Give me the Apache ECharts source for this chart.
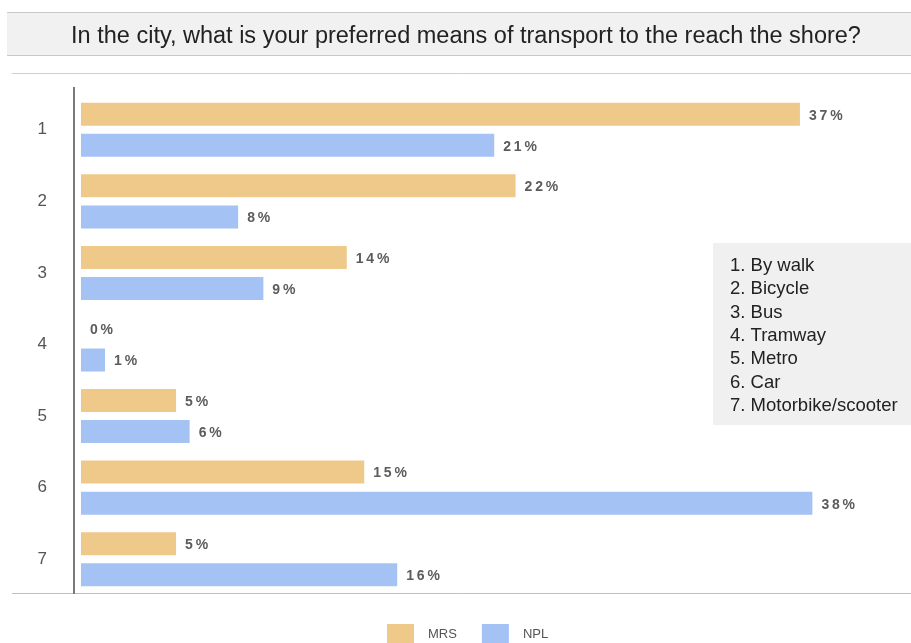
<!DOCTYPE html>
<html>
<head>
<meta charset="utf-8">
<script src="https://cdn.jsdelivr.net/npm/echarts@6/dist/echarts.min.js"></script>
<style>
html,body{margin:0;padding:0;background:#fff;}
#chart{width:911px;height:643px;}
</style>
</head>
<body>
<div id="chart"></div>
<script>
const titleText = 'In the city, what is your preferred means of transport to the reach the shore?';
const categories = ['1', '2', '3', '4', '5', '6', '7'];
const seriesNames = ['MRS', 'NPL'];
const mrsValues = [37.06, 22.4, 13.7, 0, 4.9, 14.6, 4.9];
const nplValues = [21.3, 8.1, 9.4, 1.24, 5.6, 37.7, 16.3];
const keyLines = ['1. By walk', '2. Bicycle', '3. Bus', '4. Tramway', '5. Metro', '6. Car', '7. Motorbike/scooter'];

const chart = echarts.init(document.getElementById('chart'), null, {renderer: 'canvas'});
const font = "'Liberation Sans', Arial, sans-serif";
const labelCfg = {
  show: true,
  position: 'right',
  distance: 9,
  offset: [0, 1.5],
  color: '#5c5c5c',
  fontSize: 14,
  fontWeight: 'bold',
  fontFamily: font,
  formatter: p => (Math.round(p.value) + '%').split('').join('\u2009')
};

chart.setOption({
  animation: false,
  backgroundColor: '#ffffff',
  title: {
    text: titleText,
    left: 461,
    top: 20,
    textAlign: 'center',
    textStyle: {fontSize: 23.5, fontWeight: 'normal', color: '#222', fontFamily: font}
  },
  graphic: [
    {type: 'rect', z: -10, shape: {x: 7, y: 12, width: 904, height: 44}, style: {fill: '#f1f1f1', stroke: null}},
    {type: 'line', z: -9, shape: {x1: 7, y1: 12.5, x2: 911, y2: 12.5}, style: {stroke: '#c8c8c8', lineWidth: 1}},
    {type: 'line', z: -9, shape: {x1: 7, y1: 55.5, x2: 911, y2: 55.5}, style: {stroke: '#c8c8c8', lineWidth: 1}},
    {type: 'line', z: -9, shape: {x1: 12, y1: 73.5, x2: 911, y2: 73.5}, style: {stroke: '#cfcfcf', lineWidth: 1}},
    {type: 'line', z: 5, shape: {x1: 12, y1: 593.5, x2: 911, y2: 593.5}, style: {stroke: '#c0c0c0', lineWidth: 1}},
    {type: 'line', z: 6, shape: {x1: 74, y1: 87, x2: 74, y2: 594}, style: {stroke: '#7a7a7a', lineWidth: 2}},
    {type: 'rect', z: 10, shape: {x: 713, y: 243, width: 198, height: 182}, style: {fill: '#f0f0f0'}},
    {type: 'text', z: 11, left: 730, top: 254, style: {
      text: keyLines.join('\n'), fontSize: 18.5, lineHeight: 23.4, fill: '#222', fontFamily: font
    }}
  ],
  legend: {
    data: seriesNames,
    left: 387,
    top: 624,
    padding: 0,
    itemWidth: 27,
    itemHeight: 20,
    itemGap: 25,
    icon: 'rect',
    textStyle: {fontSize: 13, color: '#555', fontFamily: font, padding: [0, 0, 0, 9]}
  },
  grid: {left: 81, right: 54, top: 94, bottom: 48, containLabel: false},
  xAxis: {
    type: 'value', min: 0, max: 40,
    axisLine: {show: false}, axisTick: {show: false}, axisLabel: {show: false}, splitLine: {show: false}
  },
  yAxis: {
    type: 'category', data: categories, inverse: true,
    axisLine: {show: false}, axisTick: {show: false},
    axisLabel: {margin: 34, fontSize: 17, color: '#555', fontFamily: font}
  },
  series: [
    {name: 'MRS', type: 'bar', data: mrsValues, barWidth: 23, barGap: '35%',
     itemStyle: {color: '#efc98a'}, label: labelCfg},
    {name: 'NPL', type: 'bar', data: nplValues, barWidth: 23, barGap: '35%',
     itemStyle: {color: '#a4c2f4'}, label: labelCfg}
  ]
});
</script>
</body>
</html>
